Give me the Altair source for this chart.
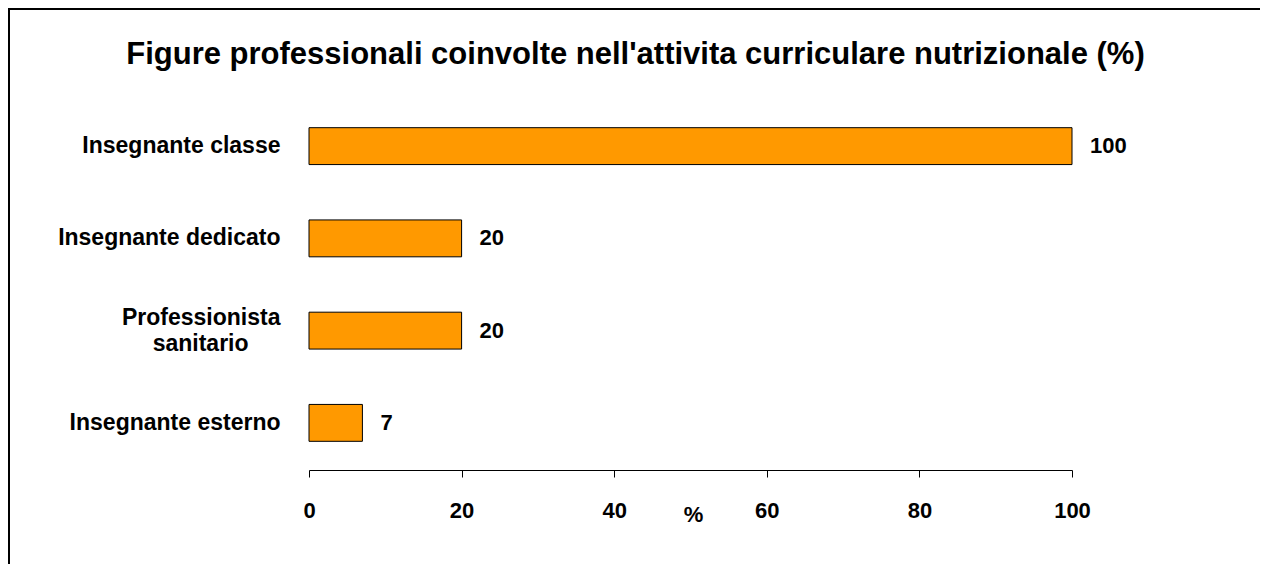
import altair as alt
import pandas as pd

categories = ["Insegnante classe", "Insegnante dedicato", "Professionista sanitario", "Insegnante esterno"]
values = [100, 20, 20, 7]
x_ticks = [0, 20, 40, 60, 80, 100]
title_text = "Figure professionali coinvolte nell'attivita curriculare nutrizionale (%)"

df = pd.DataFrame({"cat": categories, "val": values})
FONT = "Liberation Sans, Arial, sans-serif"
NB = "\u00a0" * 5 + "\u200b"

y_enc = alt.Y(
    "cat:N",
    sort=categories,
    scale=alt.Scale(paddingInner=0.6, paddingOuter=0.3),
    axis=alt.Axis(
        title=None, domain=False, ticks=False, grid=False, labelPadding=29,
        labelFont=FONT, labelFontSize=23, labelFontWeight="bold", labelColor="black",
        labelLineHeight=26, labelLimit=400,
        labelOffset={"condition": {"test": "datum.value == 'Professionista sanitario'", "value": -13}, "value": 0},
        labelExpr=f"datum.value == 'Professionista sanitario' ? ['Professionista', 'sanitario{NB}'] : datum.label",
    ),
)
x_enc = alt.X(
    "val:Q",
    scale=alt.Scale(domain=[0, 100], nice=False),
    axis=alt.Axis(
        title="%", values=x_ticks, grid=False, offset=1,
        domainColor="black", domainWidth=1, tickColor="black", tickSize=7, tickWidth=1,
        labelFont=FONT, labelFontSize=22, labelFontWeight="bold", labelColor="black",
        labelBaseline="alphabetic", labelPadding=40, labelFlush=False,
        titleFont=FONT, titleFontSize=22, titleFontWeight="bold", titleColor="black",
        titleBaseline="alphabetic", titleY=51, titleX=384,
    ),
)

bars = alt.Chart(df).mark_bar(color="#FF9900", stroke="black", strokeWidth=1).encode(x=x_enc, y=y_enc)
labels = alt.Chart(df).mark_text(
    align="left", baseline="middle", dx=18, font=FONT, fontSize=22, fontWeight="bold", color="black"
).encode(x="val:Q", y=alt.Y("cat:N", sort=categories), text="val:Q")

frame_df = pd.DataFrame({"k": [0]})
left_line = alt.Chart(frame_df).mark_rule(color="black", strokeWidth=2).encode(
    x=alt.value(-300), y=alt.value(-92), y2=alt.value(470)
)
top_line = alt.Chart(frame_df).mark_rule(color="black", strokeWidth=2).encode(
    x=alt.value(-301), x2=alt.value(951), y=alt.value(-91)
)

chart = alt.layer(bars, labels, left_line, top_line).properties(
    width=763, height=369,
    background="white",
    autosize=alt.AutoSizeParams(type="none"),
    padding={"left": 301, "top": 92, "right": 188, "bottom": 95},
    title=alt.TitleParams(
        title_text, font=FONT, fontSize=31, fontWeight="bold", color="black",
        anchor="middle", dx=-55, offset=-88, baseline="alphabetic", frame="group",
    ),
).configure_view(stroke="transparent", strokeWidth=0)

chart.save("out.html", embed_options={"renderer": "svg", "actions": False})
